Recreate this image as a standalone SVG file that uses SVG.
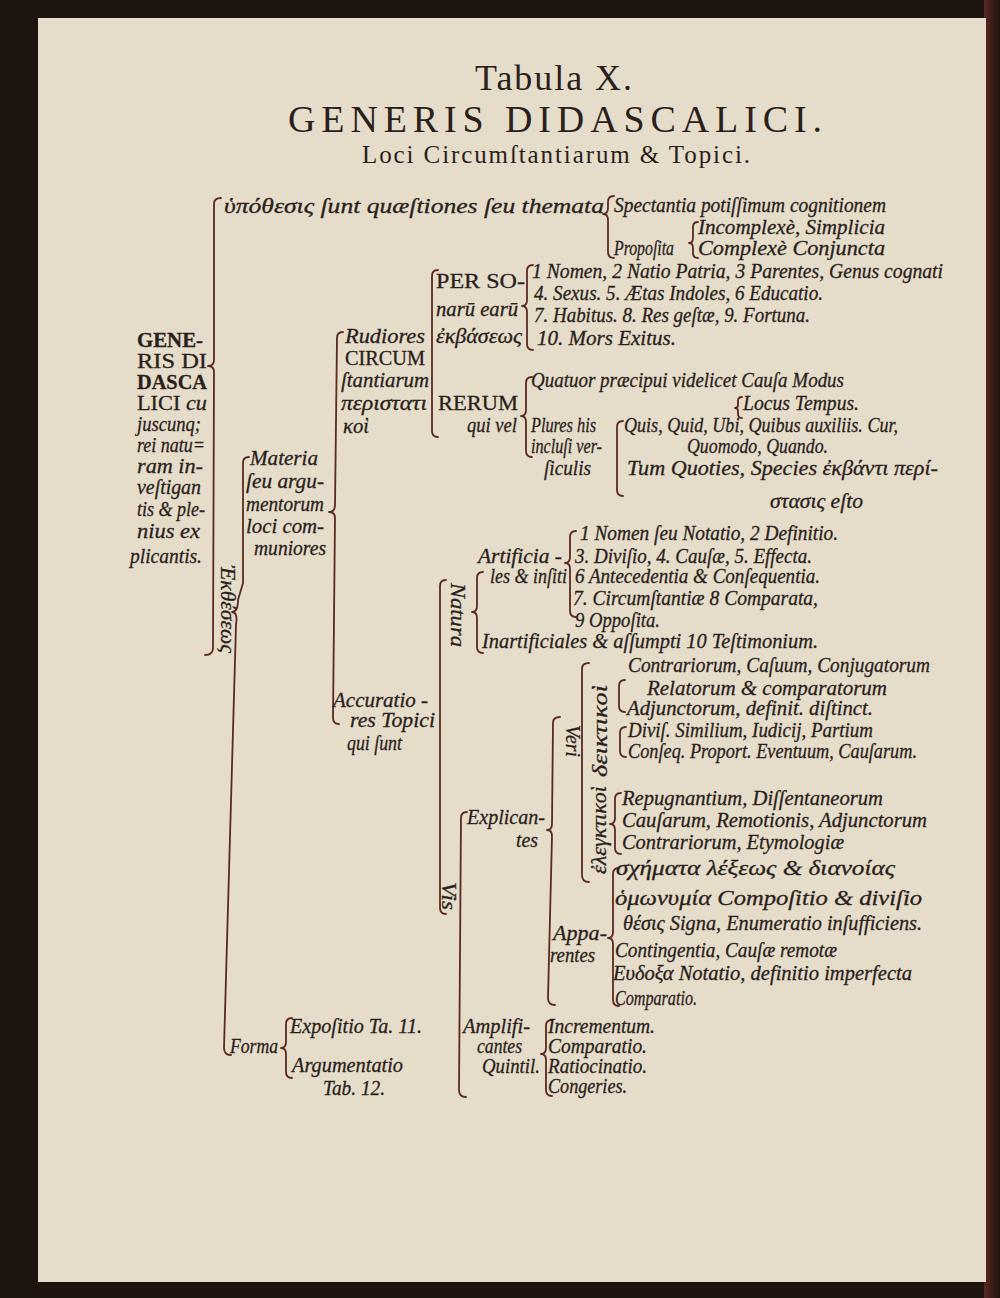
<svg xmlns="http://www.w3.org/2000/svg" width="1000" height="1298" viewBox="0 0 1000 1298">
<style>
.i{font-family:"Liberation Serif","DejaVu Serif",serif;font-style:italic;font-size:20px;fill:#2a1f1b;stroke:#2a1f1b;stroke-width:0.3}
.r{font-family:"Liberation Serif","DejaVu Serif",serif;font-size:20px;fill:#2a1f1b;stroke:#2a1f1b;stroke-width:0.3}
.tt{font-family:"Liberation Serif","DejaVu Serif",serif;fill:#2a1f1b}
.ln{fill:none;stroke:#5a2a22;stroke-width:1.8;stroke-linecap:round;stroke-linejoin:round}
</style>
<defs>
<linearGradient id="edgeR" x1="0" y1="0" x2="1" y2="0">
<stop offset="0" stop-color="#5a2a20"/>
<stop offset="1" stop-color="#1e120e"/>
</linearGradient>
</defs>
<rect x="0" y="0" width="1000" height="1298" fill="#1e140f"/>
<rect x="984" y="0" width="16" height="1298" fill="url(#edgeR)"/>
<rect x="38" y="18" width="948" height="1264" fill="#e6dcca"/>
<g id="title">
<text class="tt" x="475" y="90" font-size="36" textLength="157" lengthAdjust="spacing">Tabula X.</text>
<text class="tt" x="288" y="132" font-size="38" textLength="534" lengthAdjust="spacing">GENERIS DIDASCALICI.</text>
<text class="tt" x="362" y="163" font-size="25" textLength="388" lengthAdjust="spacing">Loci Circumſtantiarum &amp; Topici.</text>
</g>
<g id="connectors">
<path class="ln" d="M221,198 Q214,198 214,204 L214,360 Q214,366 208,366 Q214,366 214,372 L213,648 Q213,655 205,655"/>
<path class="ln" d="M249,457 Q243,457 243,463 L243,583 L238,600 Q238,612 232,612 Q238,612 236,625 L224,1048 Q224,1055 231,1055"/>
<path class="ln" d="M343,332 Q337,332 337,338 L335,505 Q335,512 329,512 Q335,512 335,518 L333,718 Q333,724 339,724"/>
<path class="ln" d="M438,270 Q432,270 432,276 L432,431 Q432,437 438,437"/>
<path class="ln" d="M446,580 Q440,580 440,586 L440,908 Q440,914 446,914"/>
<path class="ln" d="M483,572 Q477,572 477,578 L477,606 Q477,612 472,612 Q477,612 477,618 L477,647 Q477,653 483,653"/>
<path class="ln" d="M576,531 Q570,531 570,537 L570,557 Q570,563 565,563 Q570,563 570,569 L570,611 Q570,617 576,617"/>
<path class="ln" d="M467,812 Q461,812 461,818 L459,1090 Q459,1097 466,1097"/>
<path class="ln" d="M560,717 Q553,717 553,723 L552,824 Q552,830 547,830 Q552,830 552,836 L548,998 Q548,1005 555,1005"/>
<path class="ln" d="M589,663 Q582,663 582,669 L582,875 Q582,882 589,882"/>
<path class="ln" d="M625,680 Q619,680 619,686 L619,706 Q619,712 625,712"/>
<path class="ln" d="M626,727 Q620,727 620,733 L620,751 Q620,757 626,757"/>
<path class="ln" d="M621,793 Q615,793 615,799 L615,818 Q615,824 610,824 Q615,824 615,830 L615,848 Q615,854 621,854"/>
<path class="ln" d="M619,868 Q613,868 613,874 L613,932 Q613,938 608,938 Q613,938 613,944 L613,1000 Q613,1006 619,1006"/>
<path class="ln" d="M552,1020 Q546,1020 546,1026 L546,1048 Q546,1054 541,1054 Q546,1054 546,1060 L546,1090 Q546,1096 552,1096"/>
<path class="ln" d="M292,1018 Q286,1018 286,1024 L286,1042 Q286,1048 281,1048 Q286,1048 286,1054 L286,1072 Q286,1078 292,1078"/>
<path class="ln" d="M533,265 Q527,265 527,271 L527,300 Q527,306 522,306 Q527,306 527,312 L527,344 Q527,350 533,350"/>
<path class="ln" d="M532,377 Q526,377 526,383 L526,410 Q526,416 521,416 Q526,416 526,422 L526,451 Q526,457 532,457"/>
<path class="ln" d="M623,421 Q617,421 617,427 L617,490 Q617,496 623,496"/>
<path class="ln" d="M614,196 Q608,196 608,202 L608,208 Q608,214 603,214 Q608,214 608,220 L608,252 Q608,258 614,258"/>
<path class="ln" d="M698,222 Q693,222 693,227 L693,238 Q693,243 689,243 Q693,243 693,248 L693,253 Q693,258 698,258"/>
<path class="ln" d="M742,397 Q738,397 738,401 L738,405 Q738,408 735,408 Q738,408 738,411 L738,414 Q738,418 742,418"/>
</g>
<g id="hypothesis">
<text class="i" x="224" y="213" font-size="23" textLength="380" lengthAdjust="spacingAndGlyphs">ὑπόθεσις ſunt quæſtiones ſeu themata</text>
<text class="i" x="614" y="212" font-size="17" textLength="272" lengthAdjust="spacingAndGlyphs">Spectantia potiſſimum cognitionem</text>
<text class="i" x="698" y="234" font-size="17" textLength="187" lengthAdjust="spacingAndGlyphs">Incomplexè, Simplicia</text>
<text class="i" x="614" y="255" font-size="16" textLength="60" lengthAdjust="spacingAndGlyphs">Propoſita</text>
<text class="i" x="698" y="255" font-size="16" textLength="187" lengthAdjust="spacingAndGlyphs">Complexè Conjuncta</text>
</g>
<g id="generis">
<text class="r" x="137" y="347" font-weight="bold" textLength="66" lengthAdjust="spacingAndGlyphs">GENE-</text>
<text class="r" x="137" y="368" textLength="70" lengthAdjust="spacingAndGlyphs">RIS DI</text>
<text class="r" x="137" y="389" font-weight="bold" textLength="70" lengthAdjust="spacingAndGlyphs">DASCA</text>
<text class="r" x="137" y="410" textLength="70" lengthAdjust="spacingAndGlyphs">LICI <tspan font-style="italic">cu</tspan></text>
<text class="i" x="137" y="431" textLength="64" lengthAdjust="spacingAndGlyphs">juscunq;</text>
<text class="i" x="137" y="452" textLength="68" lengthAdjust="spacingAndGlyphs">rei natu=</text>
<text class="i" x="137" y="473" textLength="66" lengthAdjust="spacingAndGlyphs">ram in-</text>
<text class="i" x="137" y="494" textLength="64" lengthAdjust="spacingAndGlyphs">veſtigan</text>
<text class="i" x="137" y="516" textLength="68" lengthAdjust="spacingAndGlyphs">tis &amp; ple-</text>
<text class="i" x="137" y="538" textLength="63" lengthAdjust="spacingAndGlyphs">nius ex</text>
<text class="i" x="130" y="563" textLength="72" lengthAdjust="spacingAndGlyphs">plicantis.</text>
</g>
<g id="ekthesis">
<text class="i" transform="translate(221,565) rotate(90)" textLength="88" lengthAdjust="spacingAndGlyphs">Ἐκθέσεως</text>
</g>
<g id="materia">
<text class="i" x="250" y="465" textLength="68" lengthAdjust="spacingAndGlyphs">Materia</text>
<text class="i" x="246" y="488" textLength="78" lengthAdjust="spacingAndGlyphs">ſeu argu-</text>
<text class="i" x="246" y="511" textLength="78" lengthAdjust="spacingAndGlyphs">mentorum</text>
<text class="i" x="246" y="533" textLength="78" lengthAdjust="spacingAndGlyphs">loci com-</text>
<text class="i" x="254" y="555" textLength="72" lengthAdjust="spacingAndGlyphs">muniores</text>
</g>
<g id="rudiores">
<text class="i" x="345" y="343" textLength="80" lengthAdjust="spacingAndGlyphs">Rudiores</text>
<text class="r" x="345" y="365" textLength="80" lengthAdjust="spacingAndGlyphs">CIRCUM</text>
<text class="i" x="341" y="387" textLength="88" lengthAdjust="spacingAndGlyphs">ſtantiarum</text>
<text class="i" x="341" y="410" textLength="86" lengthAdjust="spacingAndGlyphs">περιστατι</text>
<text class="i" x="343" y="433" textLength="26" lengthAdjust="spacingAndGlyphs">κοὶ</text>
</g>
<g id="personarum">
<text class="r" x="436" y="288" textLength="89" lengthAdjust="spacingAndGlyphs">PER SO-</text>
<text class="i" x="436" y="316" textLength="82" lengthAdjust="spacingAndGlyphs">narū earū</text>
<text class="i" x="436" y="343" textLength="86" lengthAdjust="spacingAndGlyphs">ἐκβάσεως</text>
<text class="i" x="532" y="278" textLength="411" lengthAdjust="spacingAndGlyphs">1 Nomen, 2 Natio Patria, 3 Parentes, Genus cognati</text>
<text class="i" x="534" y="300" textLength="289" lengthAdjust="spacingAndGlyphs">4. Sexus. 5. Ætas Indoles, 6 Educatio.</text>
<text class="i" x="534" y="322" textLength="276" lengthAdjust="spacingAndGlyphs">7. Habitus. 8. Res geſtæ, 9. Fortuna.</text>
<text class="i" x="537" y="345" textLength="139" lengthAdjust="spacingAndGlyphs">10. Mors Exitus.</text>
</g>
<g id="rerum">
<text class="r" x="438" y="410" font-size="22" textLength="80" lengthAdjust="spacingAndGlyphs">RERUM</text>
<text class="i" x="467" y="432" textLength="50" lengthAdjust="spacingAndGlyphs">qui vel</text>
<text class="i" x="531" y="387" textLength="313" lengthAdjust="spacingAndGlyphs">Quatuor præcipui videlicet Cauſa Modus</text>
<text class="i" x="743" y="410" textLength="116" lengthAdjust="spacingAndGlyphs">Locus Tempus.</text>
<text class="i" x="531" y="432" textLength="65" lengthAdjust="spacingAndGlyphs">Plures his</text>
<text class="i" x="531" y="453" textLength="71" lengthAdjust="spacingAndGlyphs">incluſi ver-</text>
<text class="i" x="544" y="475" textLength="47" lengthAdjust="spacingAndGlyphs">ſiculis</text>
<text class="i" x="624" y="432" textLength="274" lengthAdjust="spacingAndGlyphs">Quis, Quid, Ubi, Quibus auxiliis. Cur,</text>
<text class="i" x="687" y="453" textLength="141" lengthAdjust="spacingAndGlyphs">Quomodo, Quando.</text>
<text class="i" x="627" y="475" textLength="311" lengthAdjust="spacingAndGlyphs">Tum Quoties, Species ἐκβάντι περί-</text>
<text class="i" x="770" y="508" textLength="93" lengthAdjust="spacingAndGlyphs">στασις eſto</text>
</g>
<g id="accuratio">
<text class="i" x="333" y="707" textLength="95" lengthAdjust="spacingAndGlyphs">Accuratio -</text>
<text class="i" x="350" y="727" textLength="85" lengthAdjust="spacingAndGlyphs">res Topici</text>
<text class="i" x="347" y="750" textLength="55" lengthAdjust="spacingAndGlyphs">qui ſunt</text>
</g>
<g id="natura">
<text class="i" transform="translate(451,583) rotate(90)" textLength="64" lengthAdjust="spacingAndGlyphs">Natura</text>
<text class="i" x="478" y="563" textLength="84" lengthAdjust="spacingAndGlyphs">Artificia -</text>
<text class="i" x="490" y="583" textLength="77" lengthAdjust="spacingAndGlyphs">les &amp; inſiti</text>
<text class="i" x="482" y="648" textLength="336" lengthAdjust="spacingAndGlyphs">Inartificiales &amp; aſſumpti 10 Teſtimonium.</text>
<text class="i" x="580" y="540" textLength="258" lengthAdjust="spacingAndGlyphs">1 Nomen ſeu Notatio, 2 Definitio.</text>
<text class="i" x="575" y="563" textLength="237" lengthAdjust="spacingAndGlyphs">3. Diviſio, 4. Cauſæ, 5. Effecta.</text>
<text class="i" x="575" y="583" textLength="245" lengthAdjust="spacingAndGlyphs">6 Antecedentia &amp; Conſequentia.</text>
<text class="i" x="573" y="605" textLength="245" lengthAdjust="spacingAndGlyphs">7. Circumſtantiæ 8 Comparata,</text>
<text class="i" x="575" y="627" textLength="85" lengthAdjust="spacingAndGlyphs">9 Oppoſita.</text>
</g>
<g id="vi">
<text class="i" transform="translate(442,882) rotate(90)" textLength="28" lengthAdjust="spacingAndGlyphs">Vis</text>
</g>
<g id="explicantes">
<text class="i" x="467" y="824" textLength="78" lengthAdjust="spacingAndGlyphs">Explican-</text>
<text class="i" x="516" y="847" font-size="18" textLength="22" lengthAdjust="spacingAndGlyphs">tes</text>
<text class="i" transform="translate(566,725) rotate(90)" textLength="32" lengthAdjust="spacingAndGlyphs">Veri</text>
</g>
<g id="deiktikoi">
<text class="i" transform="translate(607,777) rotate(-90)" font-size="18" textLength="92" lengthAdjust="spacingAndGlyphs">δεικτικοὶ</text>
<text class="i" x="628" y="672" textLength="302" lengthAdjust="spacingAndGlyphs">Contrariorum, Caſuum, Conjugatorum</text>
<text class="i" x="647" y="695" textLength="240" lengthAdjust="spacingAndGlyphs">Relatorum &amp; comparatorum</text>
<text class="i" x="627" y="715" textLength="246" lengthAdjust="spacingAndGlyphs">Adjunctorum, definit. diſtinct.</text>
<text class="i" x="628" y="737" textLength="245" lengthAdjust="spacingAndGlyphs">Diviſ. Similium, Iudicij, Partium</text>
<text class="i" x="628" y="758" textLength="289" lengthAdjust="spacingAndGlyphs">Conſeq. Proport. Eventuum, Cauſarum.</text>
</g>
<g id="elenktikoi">
<text class="i" transform="translate(606,874) rotate(-90)" font-size="18" textLength="88" lengthAdjust="spacingAndGlyphs">ἐλεγκτικοὶ</text>
<text class="i" x="622" y="805" textLength="261" lengthAdjust="spacingAndGlyphs">Repugnantium, Diſſentaneorum</text>
<text class="i" x="622" y="827" textLength="305" lengthAdjust="spacingAndGlyphs">Cauſarum, Remotionis, Adjunctorum</text>
<text class="i" x="622" y="849" textLength="222" lengthAdjust="spacingAndGlyphs">Contrariorum, Etymologiæ</text>
</g>
<g id="apparentes">
<text class="i" x="553" y="940" textLength="54" lengthAdjust="spacingAndGlyphs">Appa-</text>
<text class="i" x="550" y="962" textLength="45" lengthAdjust="spacingAndGlyphs">rentes</text>
<text class="i" x="616" y="875" font-size="21" textLength="279" lengthAdjust="spacingAndGlyphs">σχήματα λέξεως &amp; διανοίας</text>
<text class="i" x="615" y="905" font-size="21" textLength="307" lengthAdjust="spacingAndGlyphs">ὁμωνυμία Compoſitio &amp; diviſio</text>
<text class="i" x="623" y="930" textLength="299" lengthAdjust="spacingAndGlyphs">θέσις Signa, Enumeratio inſufficiens.</text>
<text class="i" x="615" y="957" textLength="222" lengthAdjust="spacingAndGlyphs">Contingentia, Cauſæ remotæ</text>
<text class="i" x="613" y="980" textLength="299" lengthAdjust="spacingAndGlyphs">Ευδοξα Notatio, definitio imperfecta</text>
<text class="i" x="615" y="1005" textLength="82" lengthAdjust="spacingAndGlyphs">Comparatio.</text>
</g>
<g id="amplificantes">
<text class="i" x="463" y="1033" textLength="67" lengthAdjust="spacingAndGlyphs">Amplifi-</text>
<text class="i" x="477" y="1053" textLength="45" lengthAdjust="spacingAndGlyphs">cantes</text>
<text class="i" x="482" y="1073" textLength="58" lengthAdjust="spacingAndGlyphs">Quintil.</text>
<text class="i" x="548" y="1033" textLength="107" lengthAdjust="spacingAndGlyphs">Incrementum.</text>
<text class="i" x="548" y="1053" textLength="99" lengthAdjust="spacingAndGlyphs">Comparatio.</text>
<text class="i" x="548" y="1073" textLength="99" lengthAdjust="spacingAndGlyphs">Ratiocinatio.</text>
<text class="i" x="548" y="1093" textLength="79" lengthAdjust="spacingAndGlyphs">Congeries.</text>
</g>
<g id="forma">
<text class="i" x="230" y="1053" textLength="48" lengthAdjust="spacingAndGlyphs">Forma</text>
<text class="i" x="290" y="1033" textLength="132" lengthAdjust="spacingAndGlyphs">Expoſitio Ta. 11.</text>
<text class="i" x="292" y="1072" textLength="111" lengthAdjust="spacingAndGlyphs">Argumentatio</text>
<text class="i" x="323" y="1095" textLength="62" lengthAdjust="spacingAndGlyphs">Tab. 12.</text>
</g>
</svg>
